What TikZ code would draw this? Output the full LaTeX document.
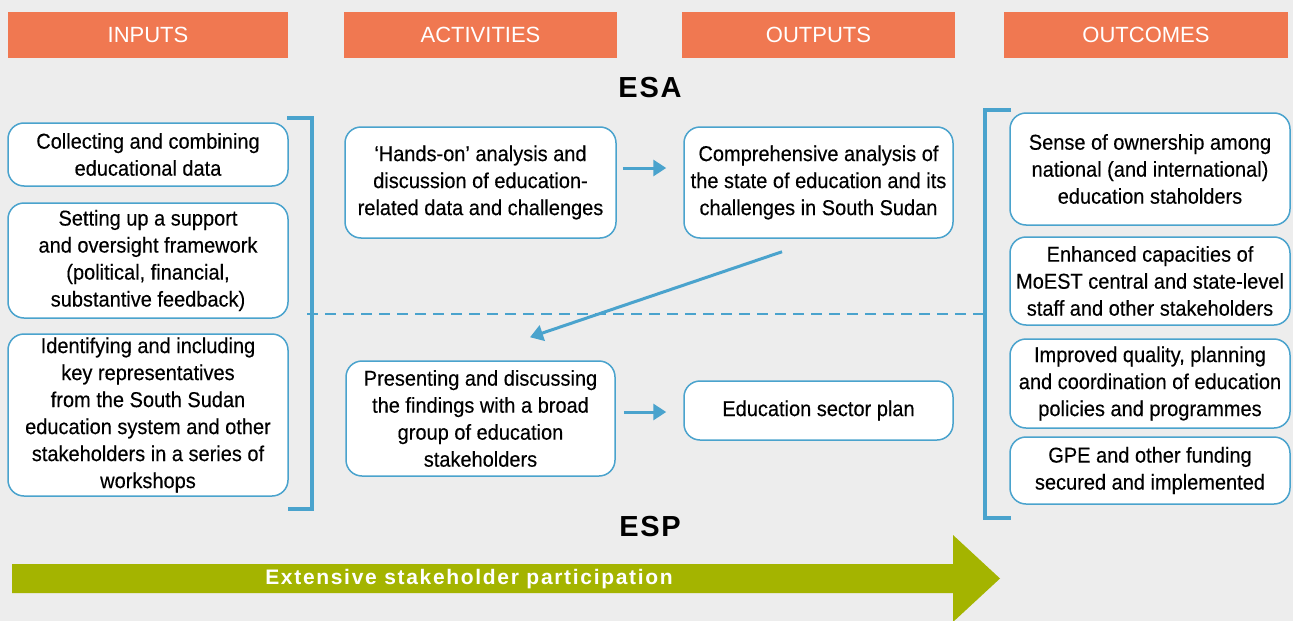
\documentclass[tikz,border=0pt]{standalone}
\usepackage{fontspec}
\setmainfont{Liberation Sans}
\newfontfamily\boxfont{Liberation Sans}[FakeStretch=0.93,FakeBold=0.3]
\newfontfamily\headfont{Liberation Sans}
\newfontfamily\titlefont{Liberation Sans}[LetterSpace=6]
\newfontfamily\greenfont{Liberation Sans}[LetterSpace=8]
\usetikzlibrary{arrows.meta}
\definecolor{bgc}{HTML}{EDEDED}
\definecolor{orangec}{HTML}{F07851}
\definecolor{bluec}{HTML}{4AA3CD}
\definecolor{greenc}{HTML}{A4B400}
\tikzset{
  headbox/.style={fill=orangec, text=white, minimum height=46pt, inner sep=0pt,
    font=\headfont\fontsize{22}{26}\selectfont},
  itembox/.style={draw=bluec, line width=1.5pt, fill=white, rounded corners=16pt,
    align=center, inner sep=0pt, font=\boxfont\fontsize{21.5}{27}\selectfont},
  flowarrow/.style={draw=bluec, line width=3pt, -{Triangle[length=13pt,width=16pt]}},
  bracketline/.style={draw=bluec, line width=4.5pt},
  titletext/.style={font=\titlefont\bfseries\fontsize{29}{32}\selectfont, inner sep=0pt}
}
\begin{document}
\begin{tikzpicture}[x=1pt,y=-1pt]
\useasboundingbox (0,0) rectangle (1293,621);
\fill[bgc] (0,0) rectangle (1293,621);

% headers
\node[headbox, minimum width=280pt] (hin) at (148,35) {INPUTS};
\node[headbox, minimum width=273pt] (hact) at (480.5,35) {ACTIVITIES};
\node[headbox, minimum width=273pt] (hout) at (818.5,35) {OUTPUTS};
\node[headbox, minimum width=284pt] (hoc) at (1146,35) {OUTCOMES};

% titles
\node[titletext] (esa) at (650,88) {ESA};
\node[titletext] (esp) at (650,527) {ESP};

% brackets and dashed divider
\coordinate (lbt) at (312,118);
\coordinate (lbb) at (312,509);
\coordinate (rbt) at (985,110);
\coordinate (rbb) at (985,518);
\draw[bracketline] (287,118) -- (lbt) -- (lbb) -- (288,509);
\draw[bracketline] (1011,110) -- (rbt) -- (rbb) -- (1011,518);
\coordinate (dl) at (307,314);
\coordinate (dr) at (983,314);
\draw[draw=bluec, line width=2.5pt, dash pattern=on 11pt off 7pt] (dl) -- (dr);

% inputs
\node[itembox, minimum width=280pt, minimum height=63pt] (in1) at (148,154.5)
  {Collecting and combining\\educational data};
\node[itembox, minimum width=280pt, minimum height=115pt] (in2) at (148,260.5)
  {Setting up a support\\and oversight framework\\(political, financial,\\substantive feedback)};
\node[itembox, minimum width=280pt, minimum height=162pt] (in3) at (148,415)
  {Identifying and including\\key representatives\\from the South Sudan\\education system and other\\stakeholders in a series of\\workshops};

% activities
\node[itembox, minimum width=271pt, minimum height=111pt] (act1) at (480.5,182.5)
  {‘Hands-on’ analysis and\\discussion of education-\\related data and challenges};
\node[itembox, minimum width=269pt, minimum height=115pt] (act2) at (480.5,418.5)
  {Presenting and discussing\\the findings with a broad\\group of education\\stakeholders};

% outputs
\node[itembox, minimum width=269pt, minimum height=111pt] (out1) at (818.5,182.5)
  {Comprehensive analysis of\\the state of education and its\\challenges in South Sudan};
\node[itembox, minimum width=269pt, minimum height=59pt] (out2) at (818.5,410.5)
  {Education sector plan};

% outcomes
\node[itembox, minimum width=280pt, minimum height=112pt] (oc1) at (1150,169)
  {Sense of ownership among\\national (and international)\\education staholders};
\node[itembox, minimum width=280pt, minimum height=88pt] (oc2) at (1150,281)
  {Enhanced capacities of\\MoEST central and state-level\\staff and other stakeholders};
\node[itembox, minimum width=280pt, minimum height=89pt] (oc3) at (1150,383.5)
  {Improved quality, planning\\and coordination of education\\policies and programmes};
\node[itembox, minimum width=280pt, minimum height=67pt] (oc4) at (1150,470.5)
  {GPE and other funding\\secured and implemented};

% arrows
\draw[flowarrow] ([xshift=6pt,yshift=14.5pt]act1.east) -- ([xshift=-17pt,yshift=14.5pt]out1.west);
\draw[flowarrow] ([xshift=8pt,yshift=6.5pt]act2.east) -- ([xshift=-17pt,yshift=-1.5pt]out2.west);
\draw[flowarrow] ([xshift=-36.5pt,yshift=-13pt]out1.south) -- ([xshift=49.5pt,yshift=23pt]act2.north);

% green participation arrow
\fill[greenc] (12,564) -- (953,564) -- (953,535) -- (1000,578.5) -- (953,622) -- (953,593) -- (12,593) -- cycle;
\node[text=white, inner sep=0pt, font=\greenfont\bfseries\fontsize{21}{24}\selectfont] (part) at (469,579) {Extensive stakeholder participation};
\end{tikzpicture}
\end{document}
